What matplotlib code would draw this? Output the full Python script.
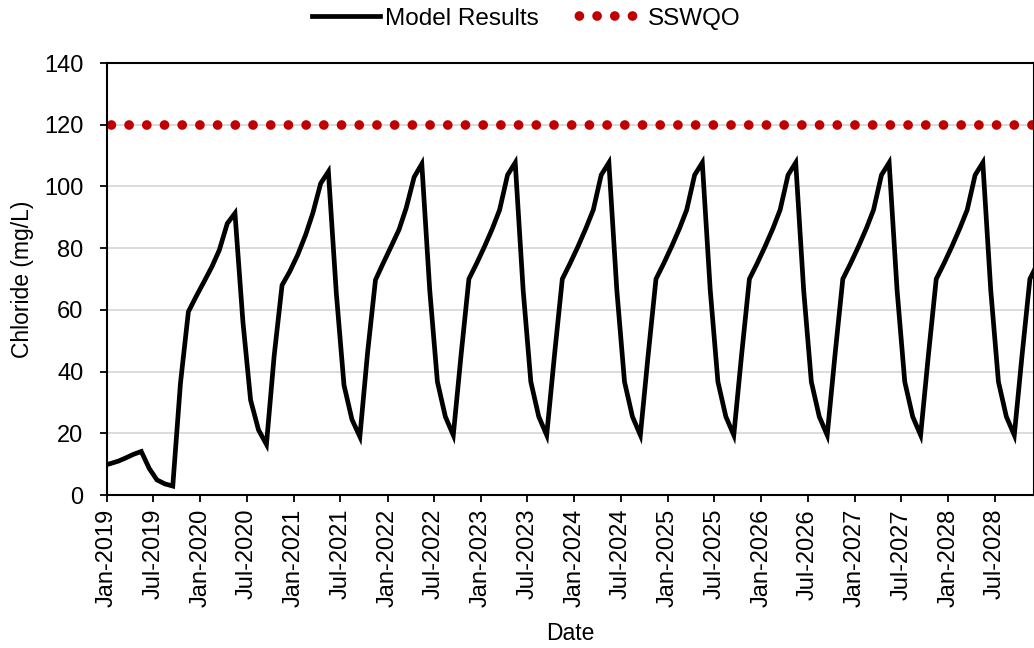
import numpy as np
import pandas as pd
import matplotlib
matplotlib.use("Agg")
import matplotlib.pyplot as plt
import matplotlib.dates as mdates

plt.rcParams['font.family'] = ['Liberation Sans', 'DejaVu Sans']

# Monthly model output (mid-month), chloride in mg/L
start_month = "2018-12"
chloride_2018 = [9.5]
chloride_2019 = [10.2, 11.0, 12.0, 13.2, 14.1, 8.6, 4.9, 3.6, 2.9, 36.2, 59.4, 64.3]
chloride_2020 = [69.1, 74.0, 79.4, 88.0, 91.3, 56.2, 30.8, 21.1, 16.4, 45.0, 68.0, 72.4]
chloride_2021 = [77.8, 84.3, 91.3, 101.0, 104.8, 65.4, 35.6, 24.5, 18.9, 46.0, 69.7, 75.1]
chloride_2022 = [80.5, 86.0, 93.0, 103.0, 107.3, 66.4, 36.7, 25.4, 19.4, 45.0, 70.0, 75.0]
chloride_2023 = [80.5, 86.4, 92.4, 103.7, 107.7, 66.4, 36.7, 25.4, 19.4, 45.0, 70.0, 75.0]
chloride_2024 = [80.5, 86.4, 92.4, 103.7, 107.7, 66.4, 36.7, 25.4, 19.4, 45.0, 70.0, 75.0]
chloride_2025 = [80.5, 86.4, 92.4, 103.7, 107.7, 66.4, 36.7, 25.4, 19.4, 45.0, 70.0, 75.0]
chloride_2026 = [80.5, 86.4, 92.4, 103.7, 107.7, 66.4, 36.7, 25.4, 19.4, 45.0, 70.0, 75.0]
chloride_2027 = [80.5, 86.4, 92.4, 103.7, 107.7, 66.4, 36.7, 25.4, 19.4, 45.0, 70.0, 75.0]
chloride_2028 = [80.5, 86.4, 92.4, 103.7, 107.7, 66.4, 36.7, 25.4, 19.4, 45.0, 70.0, 75.0]
sswqo = 120

chloride = (chloride_2018 + chloride_2019 + chloride_2020 + chloride_2021 + chloride_2022
            + chloride_2023 + chloride_2024 + chloride_2025 + chloride_2026
            + chloride_2027 + chloride_2028)
dates = pd.date_range(start_month, periods=len(chloride), freq="MS") + pd.Timedelta(days=14)

x_start = pd.Timestamp("2019-01-01")
x_end = pd.Timestamp("2028-12-01")

fs = 17

fig = plt.figure(figsize=(10.34, 6.48), dpi=100)
ax = fig.add_axes([107 / 1034, (648 - 495) / 648, (1034 - 107) / 1034, (495 - 63) / 648])

ax.plot(dates, chloride, color="black", lw=3.4, solid_joinstyle="miter",
        label="Model Results", zorder=3)
ax.plot([x_start, x_end + pd.Timedelta(days=30)], [sswqo, sswqo], color="#c00000",
        lw=7.0, linestyle=(1.37, (0.001, 1.82)), dash_capstyle="round",
        label="SSWQO", zorder=2)

ax.set_xlim(x_start, x_end)
ax.set_ylim(0, 140)
ax.set_yticks(np.arange(0, 141, 20))
ax.yaxis.grid(True, color="#d9d9d9", lw=1.3)
ax.set_axisbelow(True)

ax.xaxis.set_major_locator(mdates.MonthLocator(bymonth=[1, 7]))
ax.xaxis.set_major_formatter(mdates.DateFormatter("%b-%Y"))
ax.tick_params(axis="x", rotation=90, pad=5)
ax.tick_params(axis="y", pad=12)
ax.tick_params(axis="both", labelsize=fs, length=5, width=1.3, direction="out")

for sp in ax.spines.values():
    sp.set_linewidth(1.5)

ax.set_ylabel("Chloride (mg/L)", fontsize=16.5)
ax.yaxis.set_label_coords(-0.0787, 0.5)
ax.set_xlabel("Date", fontsize=16.5)
ax.xaxis.set_label_coords(0.5, -0.294)

fig.legend(loc="upper center", bbox_to_anchor=(0.509, 0.994), ncol=2, frameon=False,
           fontsize=17.5, handlelength=2.8, handletextpad=0.2, columnspacing=1.5,
           borderaxespad=0.0, borderpad=0.15)

fig.savefig("out.png", dpi=100)
